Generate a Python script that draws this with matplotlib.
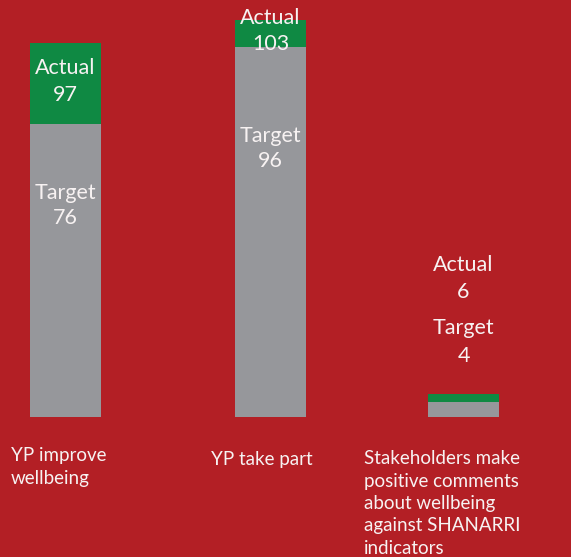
import matplotlib
matplotlib.use("Agg")
import matplotlib.pyplot as plt

# ---- data ----
categories = ["YP improve\nwellbeing", "YP take part",
              "Stakeholders make\npositive comments\nabout wellbeing\nagainst SHANARRI\nindicators"]
target = [76, 96, 4]
actual = [97, 103, 6]

# ---- style / layout ----
BG = "#B31F25"
GREEN = "#0F8943"
GRAY = "#96979B"
TXT = "#F7F2F2"
W, H = 571, 557
base_px = 417.0
px_per_unit = 3.856
xpos = [65.5, 270.5, 463.5]
bar_w = 71

plt.rcParams['font.family'] = ['Lato', 'DejaVu Sans']

fig = plt.figure(figsize=(W / 100, H / 100), dpi=100, facecolor=BG)
ax = fig.add_axes([0, 0, 1, 1])
ax.set_facecolor(BG)
ax.set_xlim(0, W)
ax.set_ylim(-(H - base_px) / px_per_unit, base_px / px_per_unit)
ax.axis("off")

extra = [a - t for a, t in zip(actual, target)]
ax.bar(xpos, target, width=bar_w, color=GRAY)
ax.bar(xpos, extra, bottom=target, width=bar_w, color=GREEN)

def yv(py):
    return (base_px - py) / px_per_unit

# value labels (pixel positions of block centers)
label_pos = [
    ((68, 95), (193, 218)),
    ((18, 44), (136, 161)),
    ((265, 292), (328, 356)),
]
fs = 15.5
for i, ((a1, a2), (t1, t2)) in enumerate(label_pos):
    x = xpos[i]
    ax.text(x, yv(a1), "Actual", ha="center", va="center", color=TXT, fontsize=fs)
    ax.text(x, yv(a2), str(actual[i]), ha="center", va="center", color=TXT, fontsize=fs)
    ax.text(x, yv(t1), "Target", ha="center", va="center", color=TXT, fontsize=fs)
    ax.text(x, yv(t2), str(target[i]), ha="center", va="center", color=TXT, fontsize=fs)

# category labels
cat_pos = [(11, 456), (211, 459), (364, 459)]
for (cx, cy), lab in zip(cat_pos, categories):
    lines = lab.split("\n")
    for j, ln in enumerate(lines):
        ax.text(cx, yv(cy + j * 22.3), ln, ha="left", va="center", color=TXT, fontsize=13.5)

fig.savefig("out.png", dpi=100, facecolor=BG)
